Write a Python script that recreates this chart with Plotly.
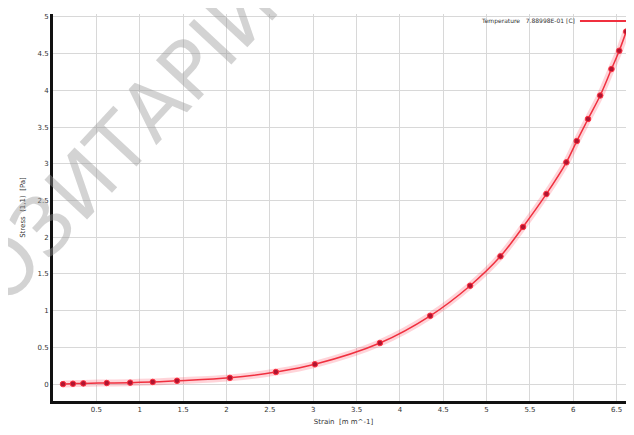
import plotly.graph_objects as go

strain = [0.115, 0.23, 0.35, 0.62, 0.89, 1.15, 1.43, 2.04, 2.57, 3.02, 3.77, 4.35,
          4.81, 5.16, 5.42, 5.69, 5.92, 6.04, 6.17, 6.31, 6.44, 6.53, 6.61]
stress = [0.0, 0.005, 0.01, 0.015, 0.02, 0.03, 0.045, 0.085, 0.165, 0.27, 0.56, 0.93,
          1.34, 1.74, 2.14, 2.59, 3.02, 3.31, 3.61, 3.93, 4.29, 4.54, 4.80]
x_ticks = [0.5, 1, 1.5, 2, 2.5, 3, 3.5, 4, 4.5, 5, 5.5, 6, 6.5]
y_ticks = [0, 0.5, 1, 1.5, 2, 2.5, 3, 3.5, 4, 4.5, 5]
legend_label = "Temperature   7.88998E-01 [C]"
watermark = "ОЗИТАРІЙ"

fig = go.Figure()
fig.add_trace(go.Scatter(x=strain, y=stress, mode="lines",
                         line=dict(color="rgba(255,60,80,0.22)", width=7, shape="spline"),
                         hoverinfo="skip", showlegend=False))
fig.add_trace(go.Scatter(x=strain, y=stress, mode="lines+markers",
                         line=dict(color="#f0303f", width=1.5, shape="spline"),
                         marker=dict(size=5.5, color="#b01530", line=dict(color="#ff3040", width=1)),
                         name=legend_label, showlegend=False))

fig.add_annotation(text=watermark, xref="paper", yref="paper", x=0.12, y=0.675,
                   xanchor="center", yanchor="middle",
                   showarrow=False, textangle=-47,
                   font=dict(size=80, color="rgba(150,150,150,0.42)", family="DejaVu Sans"))
fig.add_annotation(text=legend_label, xref="paper", yref="paper", x=0.902, y=0.982,
                   xanchor="right", yanchor="middle", showarrow=False,
                   font=dict(size=6, color="#333", family="DejaVu Sans"))
fig.add_shape(type="line", xref="paper", yref="paper", x0=0.907, x1=1.0, y0=0.982, y1=0.982,
              line=dict(color="#f0303f", width=2))

fig.update_layout(
    width=626, height=427,
    margin=dict(l=45, r=0, t=6, b=34),
    paper_bgcolor="white", plot_bgcolor="white",
    font=dict(family="DejaVu Sans", size=7, color="#333"),
    xaxis=dict(range=[0, 6.7], tickvals=x_ticks, ticktext=[str(v) for v in x_ticks],
               showgrid=True, gridcolor="#d8d8d8", gridwidth=1, zeroline=False,
               showline=True, linecolor="#111", linewidth=3, ticks="",
               title=dict(text="Strain  [m m^-1]", font=dict(size=7), standoff=6),
               tickfont=dict(size=7)),
    yaxis=dict(range=[-0.23, 5.04], tickvals=y_ticks, ticktext=[str(v) for v in y_ticks],
               showgrid=True, gridcolor="#d8d8d8", gridwidth=1, zeroline=False,
               showline=True, linecolor="#111", linewidth=3, ticks="",
               title=dict(text="Stress  (1,1)  [Pa]", font=dict(size=7), standoff=12),
               tickfont=dict(size=7)),
)
fig.write_html("out.html")
